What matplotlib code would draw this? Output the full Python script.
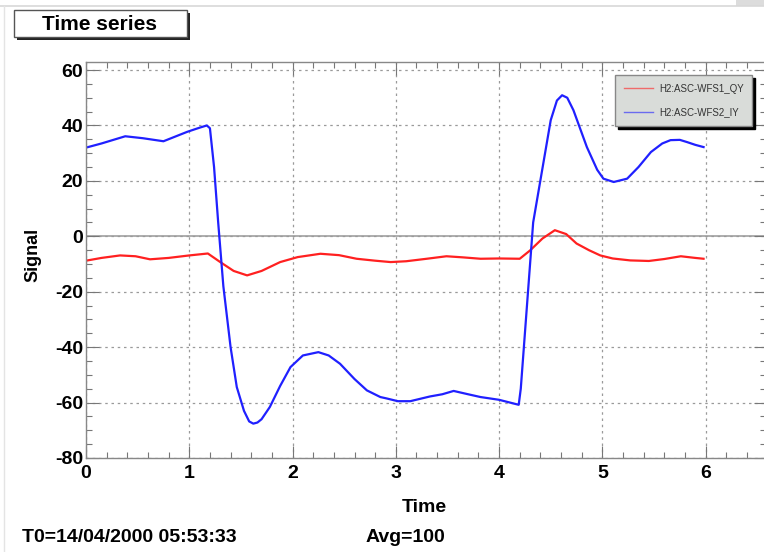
import numpy as np
import matplotlib
matplotlib.use("Agg")
import matplotlib.pyplot as plt
from matplotlib.patches import Rectangle
from matplotlib.ticker import MultipleLocator

# data
t_blue = [0.0, 0.15, 0.38, 0.55, 0.75, 0.98, 1.1, 1.17, 1.2, 1.24, 1.28, 1.33, 1.4, 1.46, 1.53, 1.58, 1.62,
          1.66, 1.7, 1.78, 1.88, 1.98, 2.1, 2.25, 2.35, 2.46, 2.6, 2.72, 2.85, 2.91, 3.02, 3.14, 3.33, 3.45,
          3.56, 3.7, 3.82, 4.0, 4.19, 4.21, 4.24, 4.28, 4.33, 4.40, 4.50, 4.56, 4.61, 4.66, 4.72, 4.85,
          4.95, 5.01, 5.11, 5.24, 5.35, 5.47, 5.58, 5.66, 5.75, 5.82, 5.9, 5.98]
y_blue = [32, 33.5, 36.1, 35.4, 34.3, 37.7, 39.2, 40, 39, 25, 5, -18, -40, -54.4, -63, -66.8, -67.6,
          -67.2, -66, -61.6, -54, -47.2, -43, -41.8, -43, -46, -51.5, -55.6, -58, -58.5, -59.5, -59.5, -57.8, -57,
          -55.8, -57, -58, -59, -60.8, -55, -40, -20, 5, 20.2, 41.9, 49, 50.9, 50, 45.5, 32.2,
          24, 20.8, 19.6, 20.8, 25, 30.4, 33.5, 34.7, 34.8, 34, 33, 32.2]

t_red = [0.0, 0.15, 0.33, 0.48, 0.62, 0.8, 1.0, 1.18, 1.3, 1.43, 1.56, 1.7, 1.88, 2.05, 2.27, 2.45,
         2.62, 2.8, 2.95, 3.1, 3.30, 3.49, 3.65, 3.82, 4.0, 4.2, 4.30, 4.42, 4.54, 4.65, 4.75, 4.87,
         4.98, 5.1, 5.27, 5.45, 5.6, 5.76, 5.9, 5.98]
y_red = [-8.8, -7.8, -6.9, -7.2, -8.3, -7.8, -6.9, -6.2, -9.3, -12.5, -14.1, -12.5, -9.3, -7.5, -6.3, -6.8,
         -8.1, -8.8, -9.3, -9.0, -8.1, -7.2, -7.6, -8.1, -8.0, -8.1, -5.1, -0.8, 2.2, 0.8, -2.6, -5.0,
         -6.9, -8.0, -8.7, -8.9, -8.2, -7.2, -7.8, -8.1]

legend_labels = ["H2:ASC-WFS1_QY", "H2:ASC-WFS2_IY"]

plt.rcParams["font.family"] = ["Liberation Sans", "DejaVu Sans"]
plt.rcParams["axes.unicode_minus"] = False

fig = plt.figure(figsize=(7.64, 5.52), dpi=100)
W, H = 764, 552

def fx(px):
    return px / W

def fy(py):
    return 1 - py / H

# canvas edge lines
fig.add_artist(plt.Line2D([0, 1], [fy(6), fy(6)], color="#d8d8d8", lw=1.2))
fig.add_artist(plt.Line2D([fx(4), fx(4)], [0, fy(6)], color="#e4e4e4", lw=1.0))
fig.add_artist(Rectangle((fx(736), fy(6)), fx(28), 6 / H, color="#dcdcdc", lw=0))

ax = fig.add_axes([fx(86), fy(458), fx(764) - fx(86) + 0.002, fy(62) - fy(458)])
ax.plot(t_red, y_red, color="#ff2020", lw=1.6, label=legend_labels[0])
ax.plot(t_blue, y_blue, color="#2020ff", lw=1.6, label=legend_labels[1])
ax.set_xlim(0, 6.58)
ax.set_ylim(-80, 62.9)
ax.axhline(0, color="#a0a0a0", lw=1.2, zorder=1)

ax.xaxis.set_major_locator(MultipleLocator(1))
ax.xaxis.set_minor_locator(MultipleLocator(0.2))
ax.yaxis.set_major_locator(MultipleLocator(20))
ax.yaxis.set_minor_locator(MultipleLocator(5))
ax.tick_params(which="both", direction="in", top=True, right=True, color="#777777")
ax.tick_params(which="major", length=9, width=0.8, labelsize=14, pad=2)
ax.tick_params(which="minor", length=4, width=0.8)
ax.tick_params(axis="x", pad=5)
for lab in ax.get_xticklabels() + ax.get_yticklabels():
    lab.set_fontweight("bold")
ax.grid(True, which="major", color="#9a9a9a", ls=(0, (2, 3)), lw=0.9)
for s in ax.spines.values():
    s.set_color("#888888")
    s.set_linewidth(1.0)

ax.set_xlabel("Time", fontsize=14, fontweight="bold")
ax.xaxis.set_label_coords((424 - 86) / (764 - 86), -(508 - 458) / (458 - 62))
ax.xaxis.label.set_va("center")
ax.set_ylabel("Signal", fontsize=13, fontweight="bold")
ax.yaxis.set_label_coords(-(86 - 33) / (764 - 86), (458 - 255) / (458 - 62))
ax.yaxis.label.set_va("center")

# legend box
leg = ax.legend(loc="upper left", bbox_to_anchor=((614 - 86) / (764 - 86), (458 - 75) / (458 - 62)),
                fontsize=7, frameon=True, fancybox=False, shadow={"color": "black", "alpha": 1},
                facecolor="#d9dcd9", edgecolor="#888888", framealpha=1, handlelength=3.0,
                handletextpad=0.6, borderpad=0.9, labelspacing=1.4, borderaxespad=0)
for txt in leg.get_texts():
    txt.set_color("#333333")
for ln in leg.get_lines():
    ln.set_linewidth(1.0)
    ln.set_alpha(0.6)

# title box
fig.add_artist(Rectangle((fx(17), fy(40)), fx(187) - fx(14), (40 - 13) / H, color="#222222", lw=0))
fig.add_artist(Rectangle((fx(14), fy(37)), fx(187) - fx(14), (37 - 10) / H, facecolor="white",
                         edgecolor="#555555", lw=1))
fig.text(fx(100), fy(24), "Time series", ha="center", va="center", fontsize=15, fontweight="bold")

fig.text(fx(22), fy(538), "T0=14/04/2000 05:53:33", ha="left", va="center", fontsize=14, fontweight="bold")
fig.text(fx(405), fy(538), "Avg=100", ha="center", va="center", fontsize=14, fontweight="bold")

fig.savefig("out.png", dpi=100)
